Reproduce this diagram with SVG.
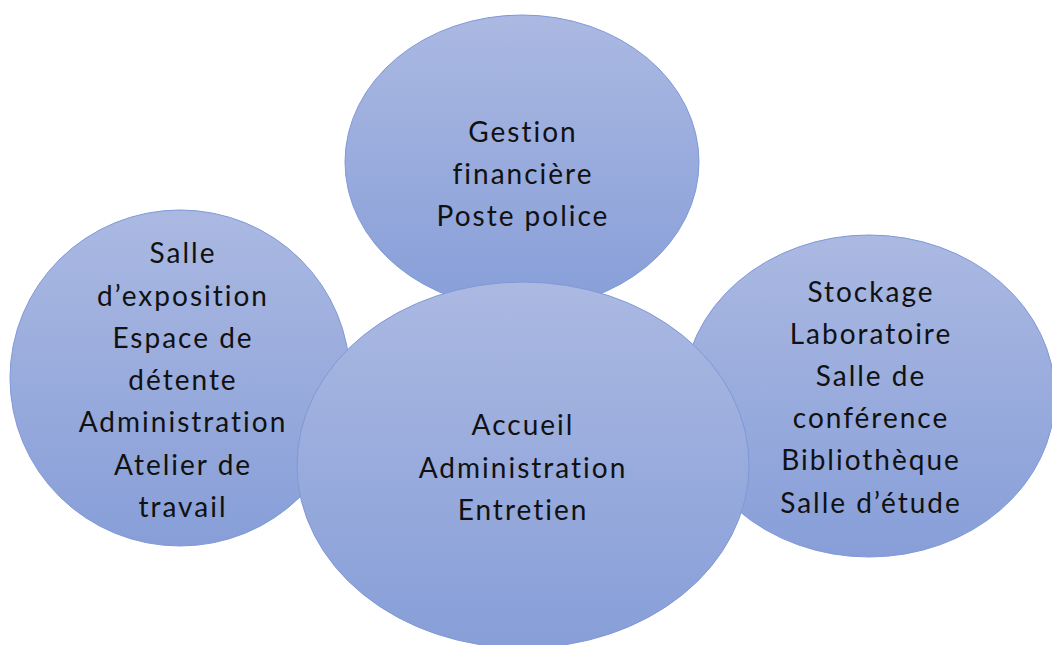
<svg xmlns="http://www.w3.org/2000/svg" width="1052" height="645" viewBox="0 0 1052 645">
<defs>
<linearGradient id="g" x1="0" y1="0" x2="0" y2="1">
<stop offset="0" stop-color="#abb9e2"/>
<stop offset="1" stop-color="#879ed8"/>
</linearGradient>
</defs>
<style>
.b{fill:url(#g);stroke:#7f98d8;stroke-width:1}
text{font-family:Lato,"Open Sans",sans-serif;font-size:28px;letter-spacing:2px;fill:#111;text-anchor:middle}
</style>
<rect width="1052" height="645" fill="#fff"/>
<g id="top">
<ellipse class="b" cx="522" cy="162" rx="177" ry="147"/>
<text x="523" y="142">Gestion</text>
<text x="523" y="184">financière</text>
<text x="523" y="226">Poste police</text>
</g>
<g id="left">
<ellipse class="b" cx="180" cy="378" rx="170" ry="168"/>
<text x="183" y="263">Salle</text>
<text x="183" y="306">d’exposition</text>
<text x="183" y="348">Espace de</text>
<text x="183" y="390">détente</text>
<text x="183" y="432">Administration</text>
<text x="183" y="475">Atelier de</text>
<text x="183" y="517">travail</text>
</g>
<g id="right">
<ellipse class="b" cx="869" cy="396" rx="186" ry="161"/>
<text x="871" y="302">Stockage</text>
<text x="871" y="344">Laboratoire</text>
<text x="871" y="386">Salle de</text>
<text x="871" y="428">conférence</text>
<text x="871" y="470">Bibliothèque</text>
<text x="871" y="513">Salle d’étude</text>
</g>
<g id="center">
<ellipse class="b" cx="523" cy="465" rx="226" ry="183"/>
<text x="523" y="435">Accueil</text>
<text x="523" y="478">Administration</text>
<text x="523" y="520">Entretien</text>
</g>
<g id="connectors"/>
</svg>
